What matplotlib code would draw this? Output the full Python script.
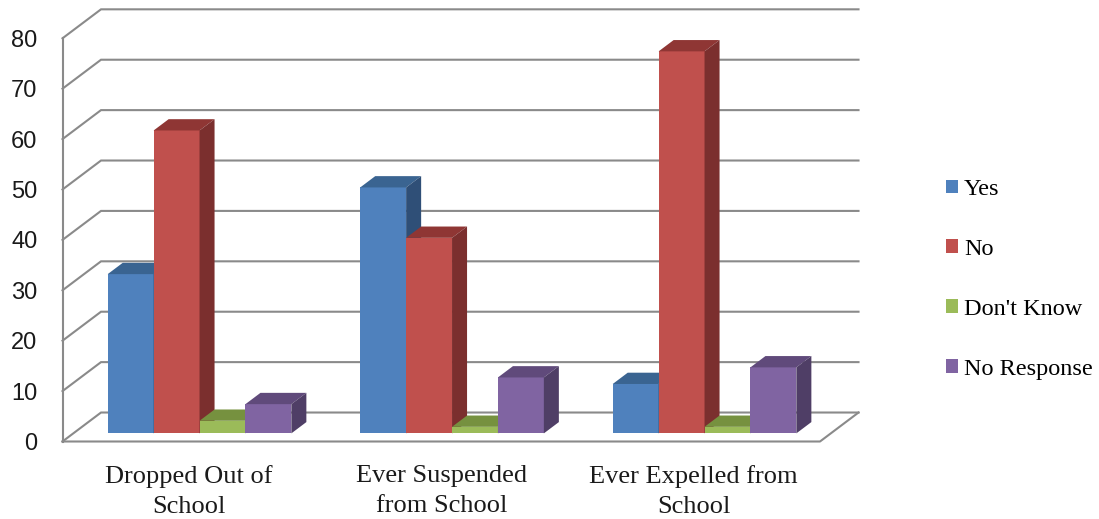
import matplotlib
matplotlib.use('Agg')
import matplotlib.pyplot as plt
from matplotlib.patches import Polygon

# data (percent)
categories = ['Dropped Out of\nSchool', 'Ever Suspended\nfrom School', 'Ever Expelled from\nSchool']
series = ['Yes', 'No', "Don't Know", 'No Response']
yes = [31.6, 48.8, 9.8]
no = [60.1, 38.8, 75.8]
dont_know = [2.5, 1.3, 1.3]
no_response = [5.8, 11.1, 13.1]
yticks = [0, 10, 20, 30, 40, 50, 60, 70, 80]

front_cols = ['#4F81BD', '#C0504D', '#9BBB59', '#8064A2']
top_cols = ['#3A6491', '#8F3634', '#76913F', '#604A7B']
side_cols = ['#2F4F77', '#7B2F2E', '#5F7530', '#4F3E66']
grid_col = '#8a8a8a'

# oblique "3d" offsets for full depth (x in category units, y in value units)
DX = 0.1525
DY = 5.75
z0, z1 = 0.28, 0.67
bw = 1 / 5.5

fig = plt.figure(figsize=(10.99, 5.19), dpi=100)
ax = fig.add_axes([62.5 / 1099, 77.5 / 519, 757.5 / 1099, 403.2 / 519])
ax.set_xlim(0, 3)
ax.set_ylim(0, 80)
for s in ax.spines.values():
    s.set_visible(False)

# walls / gridlines
lw = 1.5
ax.plot([0, 0], [0, 80], color=grid_col, lw=lw, clip_on=False, zorder=1)
for v in yticks:
    ax.plot([0, DX, 3 + DX], [v, v + DY, v + DY], color=grid_col, lw=lw,
            clip_on=False, zorder=1, solid_joinstyle='miter')
ax.plot([0, 3, 3 + DX], [0, 0, DY], color=grid_col, lw=lw, clip_on=False, zorder=1)

# bars
vals = [yes, no, dont_know, no_response]
handles = []
z = 3
for g in range(3):
    for i in range(4):
        h = vals[i][g]
        x = g + 0.5 - 2 * bw + i * bw + z0 * DX
        b = z0 * DY
        d = (z1 - z0)
        bars = ax.bar(x, h, width=bw, bottom=b, align='edge', color=front_cols[i],
                      edgecolor='none', zorder=z, clip_on=False)
        if g == 0:
            handles.append(bars[0])
        top = Polygon([(x, b + h), (x + bw, b + h), (x + bw + d * DX, b + h + d * DY),
                       (x + d * DX, b + h + d * DY)], closed=True,
                      facecolor=top_cols[i], edgecolor='none', zorder=z, clip_on=False)
        side = Polygon([(x + bw, b), (x + bw + d * DX, b + d * DY),
                        (x + bw + d * DX, b + h + d * DY), (x + bw, b + h)], closed=True,
                       facecolor=side_cols[i], edgecolor='none', zorder=z, clip_on=False)
        ax.add_patch(top)
        ax.add_patch(side)
        z += 1

ax.set_yticks(yticks)
ax.set_yticklabels([str(v) for v in yticks], family='Liberation Sans', fontsize=17,
                   color='#1a1a1a')
ax.set_xticks([0.5, 1.5, 2.5])
ax.set_xticklabels(categories, family='Liberation Serif', fontsize=19,
                   linespacing=1.45, color='#1a1a1a')
ax.tick_params(axis='y', length=0, pad=18)
ax.tick_params(axis='x', length=0, pad=17)

fig.legend(handles, series, loc='center left', bbox_to_anchor=(946 / 1099, 0.4615),
           frameon=False, prop={'family': 'Liberation Serif', 'size': 17.5},
           handlelength=0.5, handleheight=0.5, handletextpad=0.25,
           labelspacing=1.6, borderpad=0, borderaxespad=0)

fig.savefig('out.png', dpi=100)
